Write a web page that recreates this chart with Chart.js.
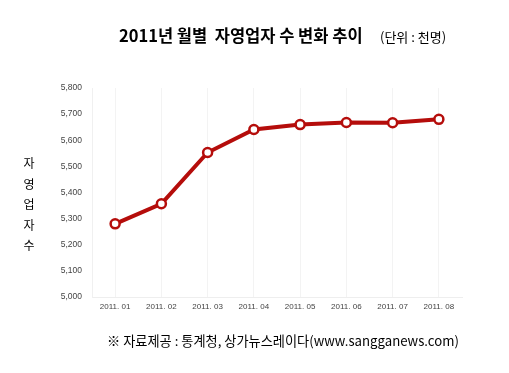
<!DOCTYPE html>
<html>
<head>
<meta charset="utf-8">
<script src="https://cdn.jsdelivr.net/npm/chart.js@4"></script>
<style>
  html, body { margin: 0; padding: 0; background: #fff; }
  #wrap { position: relative; width: 509px; height: 373px; overflow: hidden; }
  #myChart { position: absolute; left: 0; top: 0; }
  .txt { position: absolute; font-family: "Noto Sans CJK KR", sans-serif; color: #000; white-space: nowrap; }
  #title { left: 119px; top: 23px; font-size: 16.5px; font-weight: bold; }
  #unit { left: 380px; top: 27px; font-size: 13px; }
  #ylab { left: 22px; top: 153px; font-size: 12px; line-height: 20.5px; width: 14px; text-align: center; }
  #source { left: 107px; top: 331px; font-size: 13.2px; }
</style>
</head>
<body>
<div id="wrap">
  <canvas id="myChart" width="509" height="373"></canvas>
  <div class="txt" id="title">2011년 월별&nbsp;&nbsp;자영업자 수 변화 추이</div>
  <div class="txt" id="unit">(단위 : 천명)</div>
  <div class="txt" id="ylab">자<br>영<br>업<br>자<br>수</div>
  <div class="txt" id="source">※ 자료제공 : 통계청, 상가뉴스레이다(www.sangganews.com)</div>
</div>
<script>
// 월별 자영업자 수 (천명)
var months = ['2011. 01', '2011. 02', '2011. 03', '2011. 04', '2011. 05', '2011. 06', '2011. 07', '2011. 08'];
var workers = [5280, 5357, 5553, 5641, 5660, 5668, 5667, 5680];
var yMin = 5000;
var yMax = 5800;
var yStep = 100;

var ctx = document.getElementById('myChart').getContext('2d');
new Chart(ctx, {
  type: 'line',
  data: {
    labels: months,
    datasets: [{
      data: workers,
      borderColor: '#b50d0b',
      borderWidth: 4,
      pointBackgroundColor: '#fff',
      pointBorderColor: '#b50d0b',
      pointBorderWidth: 2.5,
      pointRadius: 4.5,
      fill: false,
      tension: 0
    }]
  },
  options: {
    responsive: false,
    animation: false,
    layout: { padding: { left: 52, right: 47, top: 88, bottom: 56 } },
    plugins: { legend: { display: false }, tooltip: { enabled: false } },
    scales: {
      x: {
        offset: true,
        grid: { color: '#f3f3f3', drawTicks: false, offset: false },
        border: { color: '#eeeeee' },
        ticks: { color: '#444', padding: 5, font: { family: 'Liberation Sans', size: 8 }, maxRotation: 0 },
        afterFit: function (s) { s.height = 20; }
      },
      y: {
        min: yMin,
        max: yMax,
        grid: { display: false, drawTicks: false },
        border: { color: '#f0f0f0' },
        ticks: {
          stepSize: yStep,
          color: '#444',
          padding: 10,
          font: { family: 'Liberation Sans', size: 8.5 },
          callback: function (v) { return v.toLocaleString('en-US'); }
        },
        afterFit: function (s) { s.width = 40; }
      }
    }
  }
});
</script>
</body>
</html>
